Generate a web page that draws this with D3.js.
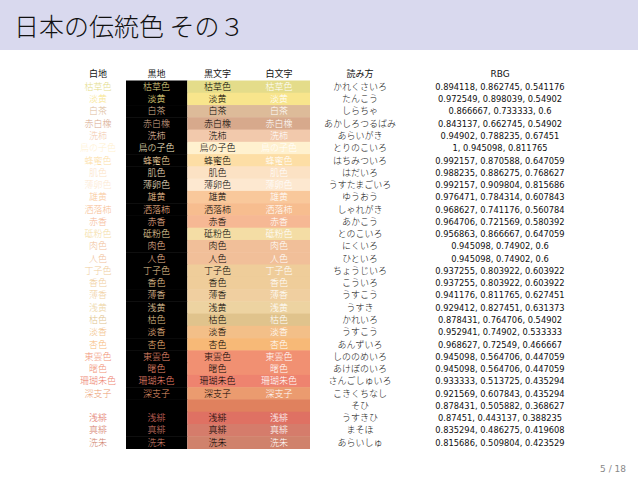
<!DOCTYPE html>
<html><head><meta charset="utf-8">
<script src="https://cdn.jsdelivr.net/npm/d3@7"></script>
<style>body{margin:0;background:#fff}svg{display:block;font-family:"Noto Sans CJK JP",sans-serif;font-weight:300}</style>
</head><body>
<script>
const headers = ["白地","黒地","黒文字","白文字","読み方","RBG"];
const names = ["枯草色","淡黄","白茶","赤白橡","洗柿","鳥の子色","蜂蜜色","肌色","薄卵色","雄黄","洒落柿","赤香","砥粉色","肉色","人色","丁子色","香色","薄香","浅黄","枯色","淡香","杏色","東雲色","曙色","珊瑚朱色","深支子","","浅緋","真緋","洗朱"];
const readings = ["かれくさいろ","たんこう","しらちゃ","あかしろつるばみ","あらいがき","とりのこいろ","はちみついろ","はだいろ","うすたまごいろ","ゆうおう","しゃれがき","あかこう","とのこいろ","にくいろ","ひといろ","ちょうじいろ","こういろ","うすこう","うすき","かれいろ","うすこう","あんずいろ","しののめいろ","あけぼのいろ","さんごしゅいろ","こきくちなし","そひ","うすきひ","まそほ","あらいしゅ"];
const rgbs = [
[0.894118,0.862745,0.541176],[0.972549,0.898039,0.54902],[0.866667,0.733333,0.6],[0.843137,0.662745,0.54902],
[0.94902,0.788235,0.67451],[1,0.945098,0.811765],[0.992157,0.870588,0.647059],[0.988235,0.886275,0.768627],
[0.992157,0.909804,0.815686],[0.976471,0.784314,0.607843],[0.968627,0.741176,0.560784],[0.964706,0.721569,0.580392],
[0.956863,0.866667,0.647059],[0.945098,0.74902,0.6],[0.945098,0.74902,0.6],[0.937255,0.803922,0.603922],
[0.937255,0.803922,0.603922],[0.941176,0.811765,0.627451],[0.929412,0.827451,0.631373],[0.878431,0.764706,0.54902],
[0.952941,0.74902,0.533333],[0.968627,0.72549,0.466667],[0.945098,0.564706,0.447059],[0.945098,0.564706,0.447059],
[0.933333,0.513725,0.435294],[0.921569,0.607843,0.435294],[0.878431,0.505882,0.368627],[0.87451,0.443137,0.388235],
[0.835294,0.486275,0.419608],[0.815686,0.509804,0.423529]];

const W=638,H=479;
const svg=d3.select("body").append("svg").attr("width",W).attr("height",H);
svg.append("rect").attr("width",W).attr("height",50).attr("fill","#d9d9ee");
svg.append("text").attr("x",14).attr("y",36).attr("font-size",25).attr("fill","#111").text("日本の伝統色 その３");
svg.append("text").attr("x",626).attr("y",472).attr("text-anchor","end").attr("font-size",9).attr("fill","#888").attr("font-family","DejaVu Sans").attr("font-weight","normal").text("5 / 18");

const col = c => d3.rgb(c[0]*255,c[1]*255,c[2]*255).toString();
const y = d3.scaleBand().domain(d3.range(names.length)).range([80.5,448.5]);
const x = d3.scaleOrdinal().domain(headers).range([98,156.5,217.5,279,360,500]);
const cellX = d3.scaleBand().domain(["黒地","黒文字","白文字"]).range([126,310]);
const fs=9;

svg.selectAll(".h").data(headers).join("text").attr("x",d=>x(d)).attr("y",77)
  .attr("text-anchor","middle").attr("font-size",fs).attr("fill","#111").attr("font-weight","normal")
  .attr("font-family",d=>d==="RBG"?"DejaVu Sans":null).text(d=>d);

const rows=svg.selectAll(".r").data(names.map((n,i)=>({n,i,c:col(rgbs[i]),rd:readings[i],v:rgbs[i]}))).join("g");
rows.append("rect").attr("x",cellX("黒地")).attr("y",d=>y(d.i)).attr("width",cellX.bandwidth()).attr("height",y.bandwidth()+0.5).attr("fill","#000");
rows.append("rect").attr("x",cellX("黒文字")).attr("y",d=>y(d.i)).attr("width",cellX.bandwidth()*2).attr("height",y.bandwidth()+0.5).attr("fill",d=>d.c);
const ty=d=>y(d.i)+y.bandwidth()/2+3.3;
rows.append("text").attr("x",x("白地")).attr("y",ty).attr("text-anchor","middle").attr("font-size",fs).attr("fill",d=>d.c).text(d=>d.n);
rows.append("text").attr("x",x("黒地")).attr("y",ty).attr("text-anchor","middle").attr("font-size",fs).attr("fill",d=>d.c).text(d=>d.n);
rows.append("text").attr("x",x("黒文字")).attr("y",ty).attr("text-anchor","middle").attr("font-size",fs).attr("fill","#000").text(d=>d.n);
rows.append("text").attr("x",x("白文字")).attr("y",ty).attr("text-anchor","middle").attr("font-size",fs).attr("fill","#fff").text(d=>d.n);
rows.append("text").attr("x",x("読み方")).attr("y",ty).attr("text-anchor","middle").attr("font-size",fs).attr("fill","#111").text(d=>d.rd);
rows.append("text").attr("x",x("RBG")).attr("y",ty).attr("text-anchor","middle").attr("font-size",8.3).attr("font-family","DejaVu Sans").attr("font-weight","normal").attr("fill","#111").text(d=>d.v.join(", "));
</script>
</body></html>
